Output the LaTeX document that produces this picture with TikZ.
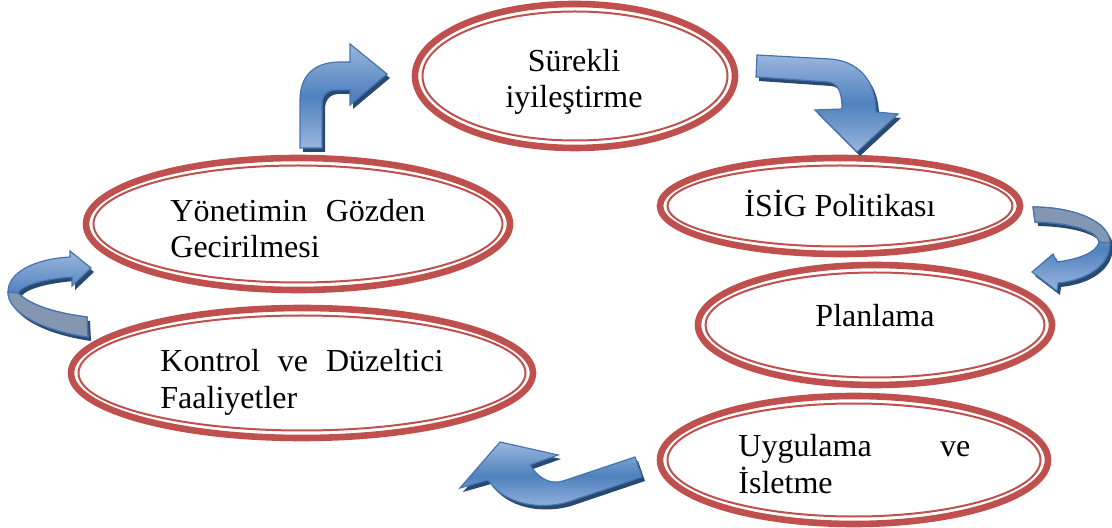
\documentclass[tikz,border=0pt]{standalone}
\usepackage{fontspec}
\setmainfont{Liberation Serif}
\usepackage{tikz}
\definecolor{ringred}{HTML}{C0504D}
\definecolor{arrowlight}{HTML}{9AB6DE}
\definecolor{arrowdark}{HTML}{4F81BD}
\definecolor{arrowedge}{HTML}{4474B0}
\definecolor{arrowshadow}{HTML}{2A4970}
\definecolor{arrowback}{HTML}{8497B2}

\begin{document}
\begin{tikzpicture}[x=0.5pt,y=-0.5pt,
    ringout/.style={draw=ringred,line width=3.3pt},
    ringin/.style={draw=ringred,line width=1pt},
    stagetext/.style={font=\fontsize{16}{18}\selectfont,inner sep=0pt},
    bluearrow/.style={draw=arrowedge,line width=.6pt,top color=arrowlight,bottom color=arrowlight,middle color=arrowdark,
      preaction={fill=arrowshadow,transform canvas={xshift=1.5pt,yshift=-2pt}}},
    backside/.style={fill=arrowback,draw=arrowedge,line width=.6pt}]
      \useasboundingbox (0,0) rectangle (1112,528);

      \draw[ringout] (575,76) ellipse (160 and 72);
      \draw[ringin] (575,76) ellipse (152.5 and 64.5);
      \node (improve) at (574,72) [stagetext,anchor=base,text width=80pt,align=center] {Sürekli\\iyileştirme};

      \draw[ringout] (840,206) ellipse (180 and 48);
      \draw[ringin] (840,206) ellipse (172.5 and 40.5);
      \node (policy) at (840,217) [stagetext,anchor=base] {İSİG Politikası};

      \draw[ringout] (875,325) ellipse (177 and 60);
      \draw[ringin] (875,325) ellipse (169.5 and 52.5);
      \node (plan) at (875,327) [stagetext,anchor=base] {Planlama};

      \draw[ringout] (854,460) ellipse (194 and 64);
      \draw[ringin] (854,460) ellipse (186.5 and 56.5);
      \node (apply) at (738,457) [stagetext,anchor=base west,text width=116pt,align=left] {Uygulama\hfill ve\\İsletme};

      \draw[ringout] (302,373) ellipse (231 and 65);
      \draw[ringin] (302,373) ellipse (223.5 and 57.5);
      \node (check) at (160,372) [stagetext,anchor=base west,text width=141.5pt,align=left] {Kontrol\hfill ve\hfill Düzeltici\\Faaliyetler};

      \draw[ringout] (298,224) ellipse (212 and 66);
      \draw[ringin] (298,224) ellipse (204.5 and 58.5);
      \node (review) at (170,222) [stagetext,anchor=base west,text width=127.5pt,align=left] {Yönetimin\hfill Gözden\\Gecirilmesi};

      \path[bluearrow] (300,148) -- (300,100) .. controls (300,75) and (315,62) .. (340,62) -- (350,62)
        -- (350,44) -- (387,74) -- (350,105) -- (350,90) -- (336,90)
        .. controls (327,90) and (322,96) .. (322,105) -- (322,148) -- cycle;

      \path[bluearrow] (757,55) -- (830,59) .. controls (858,61) and (876,80) .. (876,112) -- (898,114)
        -- (857,152) -- (815,110) -- (842,109) .. controls (842,92) and (838,83) .. (828,82) -- (756,77) -- cycle;

      \path[bluearrow] (1033,207) .. controls (1075,207) and (1110,222) .. (1110,243)
        .. controls (1110,265) and (1088,280) .. (1058,283) -- (1057,291) -- (1032,272) -- (1053,254) -- (1057,262)
        .. controls (1080,259) and (1097,252) .. (1099,242) .. controls (1098,232) and (1075,223) .. (1035,222) -- cycle;
      \path[backside] (1033,207) .. controls (1075,207) and (1110,222) .. (1110,243) -- (1099,242)
        .. controls (1098,232) and (1075,223) .. (1035,222) -- cycle;

      \path[bluearrow] (642,477) -- (568,502) .. controls (540,510) and (505,505) .. (488,480) -- (460,488)
        -- (500,442) -- (558,455) -- (530,465) .. controls (538,478) and (550,485) .. (563,481) -- (635,457) -- cycle;

      \path[bluearrow] (88,337) .. controls (40,330) and (8,312) .. (8,292) .. controls (8,272) and (35,259) .. (70,257)
        -- (70,251) -- (91,268) -- (72,286) -- (72,277) .. controls (45,279) and (22,285) .. (18,293)
        .. controls (30,305) and (55,313) .. (87,317) -- cycle;
      \path[backside] (88,337) .. controls (40,330) and (8,312) .. (8,292) -- (18,293)
        .. controls (30,305) and (55,313) .. (87,317) -- cycle;

    \end{tikzpicture}
\end{document}
